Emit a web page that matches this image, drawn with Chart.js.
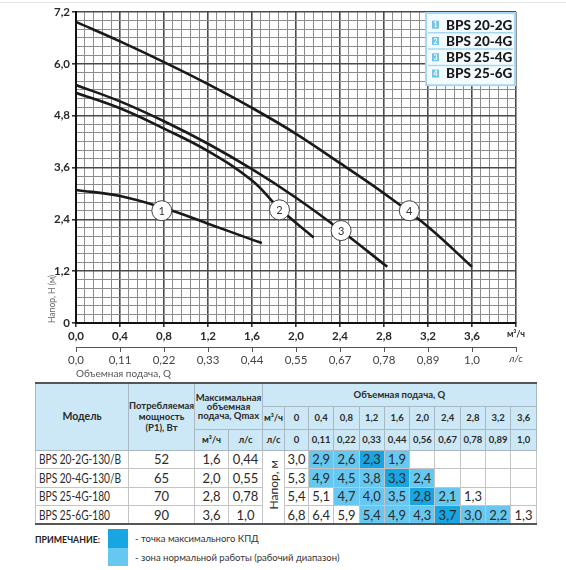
<!DOCTYPE html>
<html lang="ru">
<head>
<meta charset="utf-8">
<script src="https://cdn.jsdelivr.net/npm/chart.js@4.4.1/dist/chart.umd.min.js"></script>
<style>
  body { margin: 0; background: #fff; font-family: Lato, "Noto Sans", sans-serif; color: #222; }
  #wrap { position: relative; width: 566px; height: 570px; overflow: hidden; }
  #topLine { position: absolute; left: 0; top: 2px; width: 566px; height: 1px; background: #e8e8e8; }
  #chartBox { position: absolute; left: 0; top: 0; width: 566px; height: 380px; }
  #specs { position: absolute; left: 35px; top: 382px; width: 501px; table-layout: fixed;
           border-collapse: collapse; border-top: 2px solid #555; border-bottom: 2px solid #555; }
  #specs th { background: #cce8f7; font-weight: bold; font-size: 9.5px; line-height: 9px;
              color: #2a2a2a; border: 1px solid #a9b9c4; padding: 0; text-align: center; white-space: nowrap; }
  #specs th.big { font-size: 10.5px; }
  #specs td { font-size: 13px; border: 1px solid #c4c4c4; padding: 0; text-align: center;
              line-height: 16px; height: 17px; color: #2a2a2a; white-space: nowrap; overflow: hidden; }
  #specs td.model { text-align: left; padding-left: 3px; }
  #specs td.model span { display: inline-block; transform: scaleX(0.78); transform-origin: left center; }
  #specs td.head { font-size: 12px; }
  #specs td.head span { display: inline-block; writing-mode: vertical-rl; transform: rotate(180deg); }
  #note { position: absolute; left: 35px; top: 529px; width: 520px; height: 40px; font-size: 9.5px; color: #333; }
  #note b { position: absolute; left: 0; top: 5px; font-size: 8.8px; color: #222; }
  .sq { position: absolute; left: 73px; width: 20px; }
  .nt { position: absolute; left: 100px; }
</style>
</head>
<body>
<div id="wrap">
  <div id="topLine"></div>
  <div id="chartBox"><canvas id="graficoBomba"></canvas></div>
  <table id="specs"></table>
  <div id="note">
    <b>ПРИМЕЧАНИЕ:</b>
    <div class="sq" style="top:0; height:19px; background:#18a6e2;"></div>
    <div class="sq" style="top:19px; height:18px; background:#66c8f0;"></div>
    <div class="nt" style="top:4px;">- точка максимального КПД</div>
    <div class="nt" style="top:23px;">- зона нормальной работы (рабочий диапазон)</div>
  </div>
</div>
<script>
// кривые напора
const curve1Q = [0, 0.4, 0.8, 1.2, 1.6, 1.69];
const curve1H = [3.08, 2.94, 2.66, 2.3, 1.93, 1.85];
const curve2Q = [0, 0.4, 0.8, 1.2, 1.6, 1.85, 2.16];
const curve2H = [5.33, 4.97, 4.5, 3.98, 3.3, 2.65, 1.98];
const curve3Q = [0, 0.4, 0.8, 1.2, 1.6, 2.0, 2.4, 2.83];
const curve3H = [5.51, 5.13, 4.67, 4.15, 3.56, 2.9, 2.16, 1.3];
const curve4Q = [0, 0.4, 0.8, 1.2, 1.6, 2.0, 2.4, 2.8, 3.2, 3.6];
const curve4H = [6.97, 6.52, 6.04, 5.53, 4.98, 4.38, 3.7, 3.0, 2.23, 1.3];

// номера кривых в кружках
const markerNum = ["1", "2", "3", "4"];
const markerQ = [0.78, 1.85, 2.41, 3.03];
const markerH = [2.6, 2.62, 2.14, 2.6];

const legendNames = ["BPS 20-2G", "BPS 20-4G", "BPS 25-4G", "BPS 25-6G"];

// подписи осей
const xTickLabels = ["0,0", "0,4", "0,8", "1,2", "1,6", "2,0", "2,4", "2,8", "3,2", "3,6", "м³/ч"];
const lsTickLabels = ["0,0", "0,11", "0,22", "0,33", "0,44", "0,55", "0,67", "0,78", "0,89", "1,0", "л/с"];
const yTickLabels = ["0", "1,2", "2,4", "3,6", "4,8", "6,0", "7,2"];

// таблица
const tableModels = ["BPS 20-2G-130/B", "BPS 20-4G-130/B", "BPS 25-4G-180", "BPS 25-6G-180"];
const tablePower = ["52", "65", "70", "90"];
const tableQmaxM3 = ["1,6", "2,0", "2,8", "3,6"];
const tableQmaxLs = ["0,44", "0,55", "0,78", "1,0"];
const tableQm3 = ["0", "0,4", "0,8", "1,2", "1,6", "2,0", "2,4", "2,8", "3,2", "3,6"];
const tableQls = ["0", "0,11", "0,22", "0,33", "0,44", "0,56", "0,67", "0,78", "0,89", "1,0"];
const tableHead1 = ["3,0", "2,9", "2,6", "2,3", "1,9", "", "", "", "", ""];
const tableHead2 = ["5,3", "4,9", "4,5", "3,8", "3,3", "2,4", "", "", "", ""];
const tableHead3 = ["5,4", "5,1", "4,7", "4,0", "3,5", "2,8", "2,1", "1,3", "", ""];
const tableHead4 = ["6,8", "6,4", "5,9", "5,4", "4,9", "4,3", "3,7", "3,0", "2,2", "1,3"];
// 0 - нет, 1 - рабочий диапазон, 2 - максимальный КПД
const tableZone1 = [0, 1, 1, 2, 1, 0, 0, 0, 0, 0];
const tableZone2 = [0, 1, 1, 1, 2, 1, 0, 0, 0, 0];
const tableZone3 = [0, 0, 1, 1, 1, 2, 1, 0, 0, 0];
const tableZone4 = [0, 0, 0, 1, 1, 1, 2, 1, 1, 0];

Chart.defaults.font.family = 'Lato, "Noto Sans", sans-serif';

function pontos(qs, hs) {
  return qs.map((q, i) => ({ x: q, y: hs[i] }));
}

function ehMultiplo(v, passo) {
  const r = v / passo;
  return Math.abs(r - Math.round(r)) < 1e-6;
}

function linha(qs, hs) {
  return {
    type: "line",
    data: pontos(qs, hs),
    borderColor: "#1a1a1a",
    borderWidth: 2.6,
    pointRadius: 0,
    tension: 0.4,
    fill: false,
    order: 1,
  };
}

const legendaPlugin = {
  id: "legendaCurvas",
  afterDraw(chart) {
    const { ctx, chartArea } = chart;
    const w = 89, rowH = 16.3, pad = 3.5;
    const h = rowH * legendNames.length + pad * 2;
    const x = chartArea.right - w - 1, y = chartArea.top + 1;
    ctx.save();
    ctx.fillStyle = "#f4fbfe";
    ctx.fillRect(x, y, w, h);
    ctx.strokeStyle = "#a6d9f1";
    ctx.lineWidth = 2;
    ctx.strokeRect(x, y, w, h);
    legendNames.forEach((nome, i) => {
      const top = y + pad + rowH * i;
      const cy = top + rowH / 2;
      if (i > 0) {
        ctx.strokeStyle = "#a6d9f1";
        ctx.lineWidth = 1.5;
        ctx.beginPath();
        ctx.moveTo(x + 2, top);
        ctx.lineTo(x + w - 2, top);
        ctx.stroke();
      }
      ctx.fillStyle = "#6fc4e8";
      ctx.fillRect(x + 6, cy - 4, 7, 8);
      ctx.fillStyle = "#ffffff";
      ctx.font = "bold 7px Lato";
      ctx.textAlign = "center";
      ctx.textBaseline = "middle";
      ctx.fillText(String(i + 1), x + 9.5, cy + 0.5);
      ctx.fillStyle = "#1a1a1a";
      ctx.font = "900 13.5px Lato";
      ctx.textAlign = "left";
      ctx.fillText(nome, x + 20, cy + 0.5);
    });
    ctx.restore();
  },
};

const numerosPlugin = {
  id: "numerosCurvas",
  afterDatasetsDraw(chart) {
    const meta = chart.getDatasetMeta(4);
    const { ctx } = chart;
    ctx.save();
    ctx.fillStyle = "#333";
    ctx.font = "11px Lato";
    ctx.textAlign = "center";
    ctx.textBaseline = "middle";
    meta.data.forEach((p, i) => {
      ctx.fillText(markerNum[i], p.x, p.y + 0.5);
    });
    ctx.restore();
  },
};

const graficoBomba = new Chart(document.getElementById("graficoBomba"), {
  type: "line",
  data: {
    datasets: [
      linha(curve1Q, curve1H),
      linha(curve2Q, curve2H),
      linha(curve3Q, curve3H),
      linha(curve4Q, curve4H),
      {
        type: "scatter",
        data: pontos(markerQ, markerH),
        pointRadius: 10,
        pointHoverRadius: 10,
        pointBackgroundColor: "#ffffff",
        pointBorderColor: "#444",
        pointBorderWidth: 1,
        order: 0,
      },
    ],
  },
  options: {
    responsive: true,
    maintainAspectRatio: false,
    animation: false,
    events: [],
    layout: { padding: { top: 12, right: 50, bottom: 0, left: 0 } },
    plugins: { legend: { display: false }, tooltip: { enabled: false } },
    scales: {
      x: {
        type: "linear",
        position: "bottom",
        min: 0,
        max: 4.0,
        afterFit: (s) => { s.height = 24; },
        border: { display: true, color: "#111", width: 2 },
        grid: {
          color: (c) => (ehMultiplo(c.tick.value, 0.4) ? "#4a4a4a" : "#8c8c8c"),
          lineWidth: (c) => (ehMultiplo(c.tick.value, 0.4) ? 1.6 : 1),
          tickColor: (c) => (ehMultiplo(c.tick.value, 0.4) ? "#333" : "rgba(0,0,0,0)"),
          tickLength: 4,
        },
        ticks: {
          stepSize: 0.08,
          autoSkip: false,
          maxRotation: 0,
          padding: 2,
          color: "#2a2a2a",
          font: (c) => (c.tick && c.tick.value > 3.9
            ? { size: 9, weight: "bold" }
            : { size: 11.5, weight: "bold" }),
          callback: (v) => (ehMultiplo(v, 0.4) ? xTickLabels[Math.round(v / 0.4)] : ""),
        },
      },
      x2: {
        type: "linear",
        position: "bottom",
        min: 0,
        max: 4.0,
        afterFit: (s) => { s.height = 33; },
        border: { display: true, color: "#555", width: 1 },
        grid: { drawOnChartArea: false, color: "#555", tickLength: 5 },
        ticks: {
          stepSize: 0.4,
          autoSkip: false,
          maxRotation: 0,
          padding: 1,
          color: "#444",
          font: (c) => (c.tick && c.tick.value > 3.9
            ? { size: 10, style: "italic" }
            : { size: 11.5 }),
          callback: (v) => lsTickLabels[Math.round(v / 0.4)],
        },
        title: {
          display: true,
          text: "Объемная подача, Q",
          align: "start",
          color: "#555",
          font: { size: 10 },
          padding: { top: 0, bottom: 0 },
        },
      },
      y: {
        type: "linear",
        min: 0,
        max: 7.2,
        afterFit: (s) => { s.width = 76; },
        border: { display: true, color: "#111", width: 2 },
        grid: {
          color: (c) => (ehMultiplo(c.tick.value, 1.2) ? "#4a4a4a" : "#8c8c8c"),
          lineWidth: (c) => (ehMultiplo(c.tick.value, 1.2) ? 1.6 : 1),
          tickColor: (c) => (ehMultiplo(c.tick.value, 1.2) ? "#333" : "rgba(0,0,0,0)"),
          tickLength: 4,
        },
        ticks: {
          stepSize: 0.2,
          autoSkip: false,
          padding: 2,
          color: "#2a2a2a",
          font: { size: 11.5, weight: "bold" },
          callback: (v) => (ehMultiplo(v, 1.2) ? yTickLabels[Math.round(v / 1.2)] : ""),
        },
        title: {
          display: true,
          text: "Напор, H (м)",
          align: "start",
          color: "#666",
          font: { size: 8.5 },
          padding: { top: 47, bottom: 0 },
        },
      },
    },
  },
  plugins: [legendaPlugin, numerosPlugin],
});

// таблица характеристик
function montaTabela() {
  const heads = [tableHead1, tableHead2, tableHead3, tableHead4];
  const zones = [tableZone1, tableZone2, tableZone3, tableZone4];
  const zoneColor = ["#ffffff", "#66c8f0", "#18a6e2"];
  let html = "<colgroup><col style='width:93px'><col style='width:66px'>" +
    "<col style='width:34px'><col style='width:34px'><col style='width:22px'><col style='width:24px'>";
  for (let i = 1; i < tableQm3.length; i++) html += "<col style='width:25.3px'>";
  html += "</colgroup>";
  html += "<tr style='height:23px'><th rowspan='3' class='big'>Модель</th>" +
    "<th rowspan='3' style='line-height:11px'>Потребляемая<br>мощность<br>(P1), Вт</th>" +
    "<th colspan='2' rowspan='2'>Максимальная<br>объемная<br>подача, Qmax</th>" +
    "<th colspan='11'>Объемная подача, Q</th></tr>";
  html += "<tr style='height:23px'><th>м³/ч</th>" + tableQm3.map((q) => "<th>" + q + "</th>").join("") + "</tr>";
  html += "<tr style='height:21px'><th>м³/ч</th><th>л/с</th><th>л/с</th>" +
    tableQls.map((q) => "<th>" + q + "</th>").join("") + "</tr>";
  tableModels.forEach((m, r) => {
    html += "<tr style='height:18.5px'><td class='model'><span>" + m + "</span></td><td>" + tablePower[r] +
      "</td><td>" + tableQmaxM3[r] + "</td><td>" + tableQmaxLs[r] + "</td>";
    if (r === 0) html += "<td rowspan='4' class='head'><span>Напор, м</span></td>";
    heads[r].forEach((h, c) => {
      html += "<td style='background:" + zoneColor[zones[r][c]] + "'>" + h + "</td>";
    });
    html += "</tr>";
  });
  document.getElementById("specs").innerHTML = html;
}

montaTabela();
</script>
</body>
</html>
